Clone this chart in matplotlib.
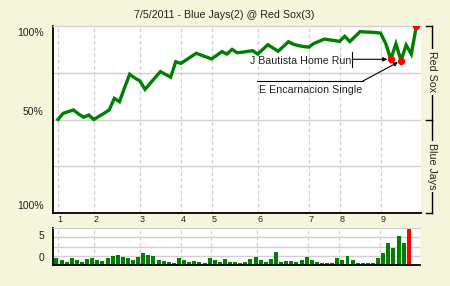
import matplotlib
matplotlib.use('Agg')
import matplotlib.pyplot as plt
from matplotlib.lines import Line2D

# ---------------- data ----------------
title = "7/5/2011 - Blue Jays(2) @ Red Sox(3)"
home_team = "Red Sox"
away_team = "Blue Jays"

# home (Red Sox) win probability after each play (index 0 = start)
win_prob = [0.500, 0.533, 0.542, 0.551, 0.530, 0.512, 0.524, 0.500, 0.517, 0.533,
            0.551, 0.613, 0.595, 0.670, 0.742, 0.722, 0.706, 0.661, 0.693, 0.725,
            0.756, 0.741, 0.726, 0.809, 0.800, 0.818, 0.836, 0.854, 0.844, 0.834,
            0.824, 0.843, 0.863, 0.850, 0.875, 0.857, 0.860, 0.864, 0.868, 0.850,
            0.875, 0.900, 0.882, 0.865, 0.890, 0.916, 0.902, 0.895, 0.890, 0.887,
            0.907, 0.918, 0.930, 0.926, 0.922, 0.918, 0.945, 0.917, 0.943, 0.970,
            0.968, 0.967, 0.965, 0.962, 0.907, 0.822, 0.905, 0.815, 0.898, 0.850,
            1.000]

# per-play leverage bars (70 plays)
leverage = [0.76, 0.54, 0.32, 0.76, 0.54, 0.32, 0.65, 0.76, 0.54, 0.43,
            0.76, 0.97, 1.08, 0.86, 0.76, 0.54, 0.86, 1.30, 1.08, 0.97,
            0.54, 0.43, 0.32, 0.22, 0.76, 0.54, 0.32, 0.43, 0.32, 0.22,
            0.76, 0.54, 0.32, 0.65, 0.32, 0.32, 0.22, 0.32, 0.65, 0.86,
            0.54, 0.32, 0.65, 1.41, 0.32, 0.43, 0.43, 0.32, 0.54, 0.86,
            0.54, 0.32, 0.22, 0.22, 0.22, 0.76, 0.54, 0.97, 0.54, 0.22,
            0.22, 0.22, 0.22, 0.76, 1.30, 2.38, 1.84, 3.14, 2.38, 4.00]

inning_labels = ['1', '2', '3', '4', '5', '6', '7', '8', '9']
inning_starts = [0, 7, 16, 24, 30, 39, 49, 55, 63]

key_plays = [65, 67, 70]
ann_bautista = "J Bautista Home Run"
ann_encarnacion = "E Encarnacion Single"

# ---------------- style ----------------
BG = '#F5F5DC'
GREEN = '#008000'
GRID = '#D0D0D0'
TXT = '#222222'
FONT = 'Liberation Sans'
plt.rcParams['font.family'] = [FONT, 'DejaVu Sans']

W, H = 450, 286
fig = plt.figure(figsize=(W / 100, H / 100), dpi=100, facecolor=BG)

def fr(px_left, px_top, px_right, px_bottom):
    return [px_left / W, 1 - px_bottom / H, (px_right - px_left) / W, (px_bottom - px_top) / H]

# x mapping: pixel = 58 + i * 5.12
def xlim_for(left_px, right_px):
    return ((left_px - 58) / 5.12, (right_px - 58) / 5.12)

ax = fig.add_axes(fr(53, 26, 421, 213))
ax.set_facecolor('white')
ax.set_xlim(*xlim_for(53, 421))
ax.set_ylim(0, 1)

for y in [0.25, 0.5, 0.75]:
    ax.axhline(y, color=GRID, lw=1.0, zorder=1)
for x in inning_starts:
    ax.axvline(x, color=GRID, lw=0.9, ls=(0, (3, 2)), zorder=1)

xs = list(range(len(win_prob)))
ax.plot(xs, win_prob, color=GREEN, lw=2.4, solid_joinstyle='miter', zorder=3)
ax.plot(key_plays, [win_prob[i] for i in key_plays], 'o', color='red',
        ms=4.2, mec='red', zorder=4)

ax.set_xticks([])
ax.set_yticks([])
for s in ['right']:
    ax.spines[s].set_visible(False)
ax.spines['top'].set_color(GRID)
ax.spines['top'].set_linewidth(1.0)
ax.spines['left'].set_linewidth(1.3)
ax.spines['bottom'].set_linewidth(1.3)

# y labels
for yy, lab in [(0.9626, '100%'), (0.540, '50%'), (0.037, '100%')]:
    ax.text(-0.026, yy, lab, transform=ax.transAxes, ha='right', va='center',
            fontsize=7.5, color=TXT)

# inning labels
for x, lab in zip(inning_starts, inning_labels):
    ax.text(x + 0.45, -0.035, lab, transform=ax.get_xaxis_transform(),
            ha='center', va='center', fontsize=6.5, color=TXT)

# right brackets
tr = ax.transAxes
bx, tx = 1.03, 1.0136
for (y0, y1) in [(1.0, 0.5), (0.5, 0.0)]:
    ax.add_line(Line2D([bx, bx], [y0, y1], transform=tr, color='black', lw=1.0, clip_on=False))
for yy in [1.0, 0.5, 0.0]:
    ax.add_line(Line2D([tx, bx], [yy, yy], transform=tr, color='black', lw=1.0, clip_on=False))
ax.text(bx, 0.754, home_team, transform=tr, rotation=270, ha='center', va='center',
        fontsize=7.7, color=TXT, bbox=dict(facecolor=BG, edgecolor='none', pad=1.5))
ax.text(bx, 0.25, away_team, transform=tr, rotation=270, ha='center', va='center',
        fontsize=7.7, color=TXT, bbox=dict(facecolor=BG, edgecolor='none', pad=1.5))

# annotations
def dx(px):
    return (px - 58) / 5.12

def dy(py):
    return (213 - py) / 187

arrow = dict(arrowstyle='-|>', color='black', lw=0.8, mutation_scale=6, shrinkA=0, shrinkB=2.5)
i1 = key_plays[0]
ax.annotate('', xy=(i1, win_prob[i1]), xytext=(dx(352.3), win_prob[i1]), arrowprops=arrow, zorder=5)
ax.plot([dx(352.3), dx(352.3)], [dy(52), dy(67)], color='black', lw=0.8, zorder=5)
ax.text(dx(351), dy(61), ann_bautista, ha='right', va='center', fontsize=7.7, color=TXT, zorder=5)

i2 = key_plays[1]
ax.plot([dx(257), dx(363)], [dy(81), dy(81)], color='black', lw=0.8, zorder=5)
ax.annotate('', xy=(i2, win_prob[i2]), xytext=(dx(363), dy(81)), arrowprops=arrow, zorder=5)
ax.text(dx(259), dy(90), ann_encarnacion, ha='left', va='center', fontsize=7.7, color=TXT, zorder=5)

# title
fig.text(224.5 / W, 1 - 15 / H, title, ha='center', va='center', fontsize=7.7, color=TXT)

# ---------------- bottom bar chart ----------------
bx_ax = fig.add_axes(fr(53, 228, 420, 265))
bx_ax.set_facecolor('white')
bx_ax.set_xlim(*xlim_for(53, 421))
bx_ax.set_ylim(0, 4)
for y in [1, 2, 3]:
    bx_ax.axhline(y, color=GRID, lw=1.0, zorder=1)
for x in inning_starts:
    bx_ax.axvline(x, color=GRID, lw=0.9, ls=(0, (3, 2)), zorder=1)
colors = [GREEN] * (len(leverage) - 1) + ['#FF0000']
bpos = [k - 0.3 for k in range(len(leverage))]
bx_ax.bar(bpos, leverage, width=0.78, color=colors, zorder=2)
bx_ax.set_xticks([])
bx_ax.set_yticks([])
bx_ax.spines['right'].set_visible(False)
bx_ax.spines['top'].set_color(GRID)
bx_ax.spines['left'].set_linewidth(1.3)
bx_ax.spines['bottom'].set_linewidth(1.3)
for yy, lab in [(0.79, '5'), (0.18, '0')]:
    bx_ax.text(-0.0245, yy, lab, transform=bx_ax.transAxes, ha='right', va='center',
               fontsize=7.5, color=TXT)

fig.savefig('out.png', dpi=100, facecolor=BG)
